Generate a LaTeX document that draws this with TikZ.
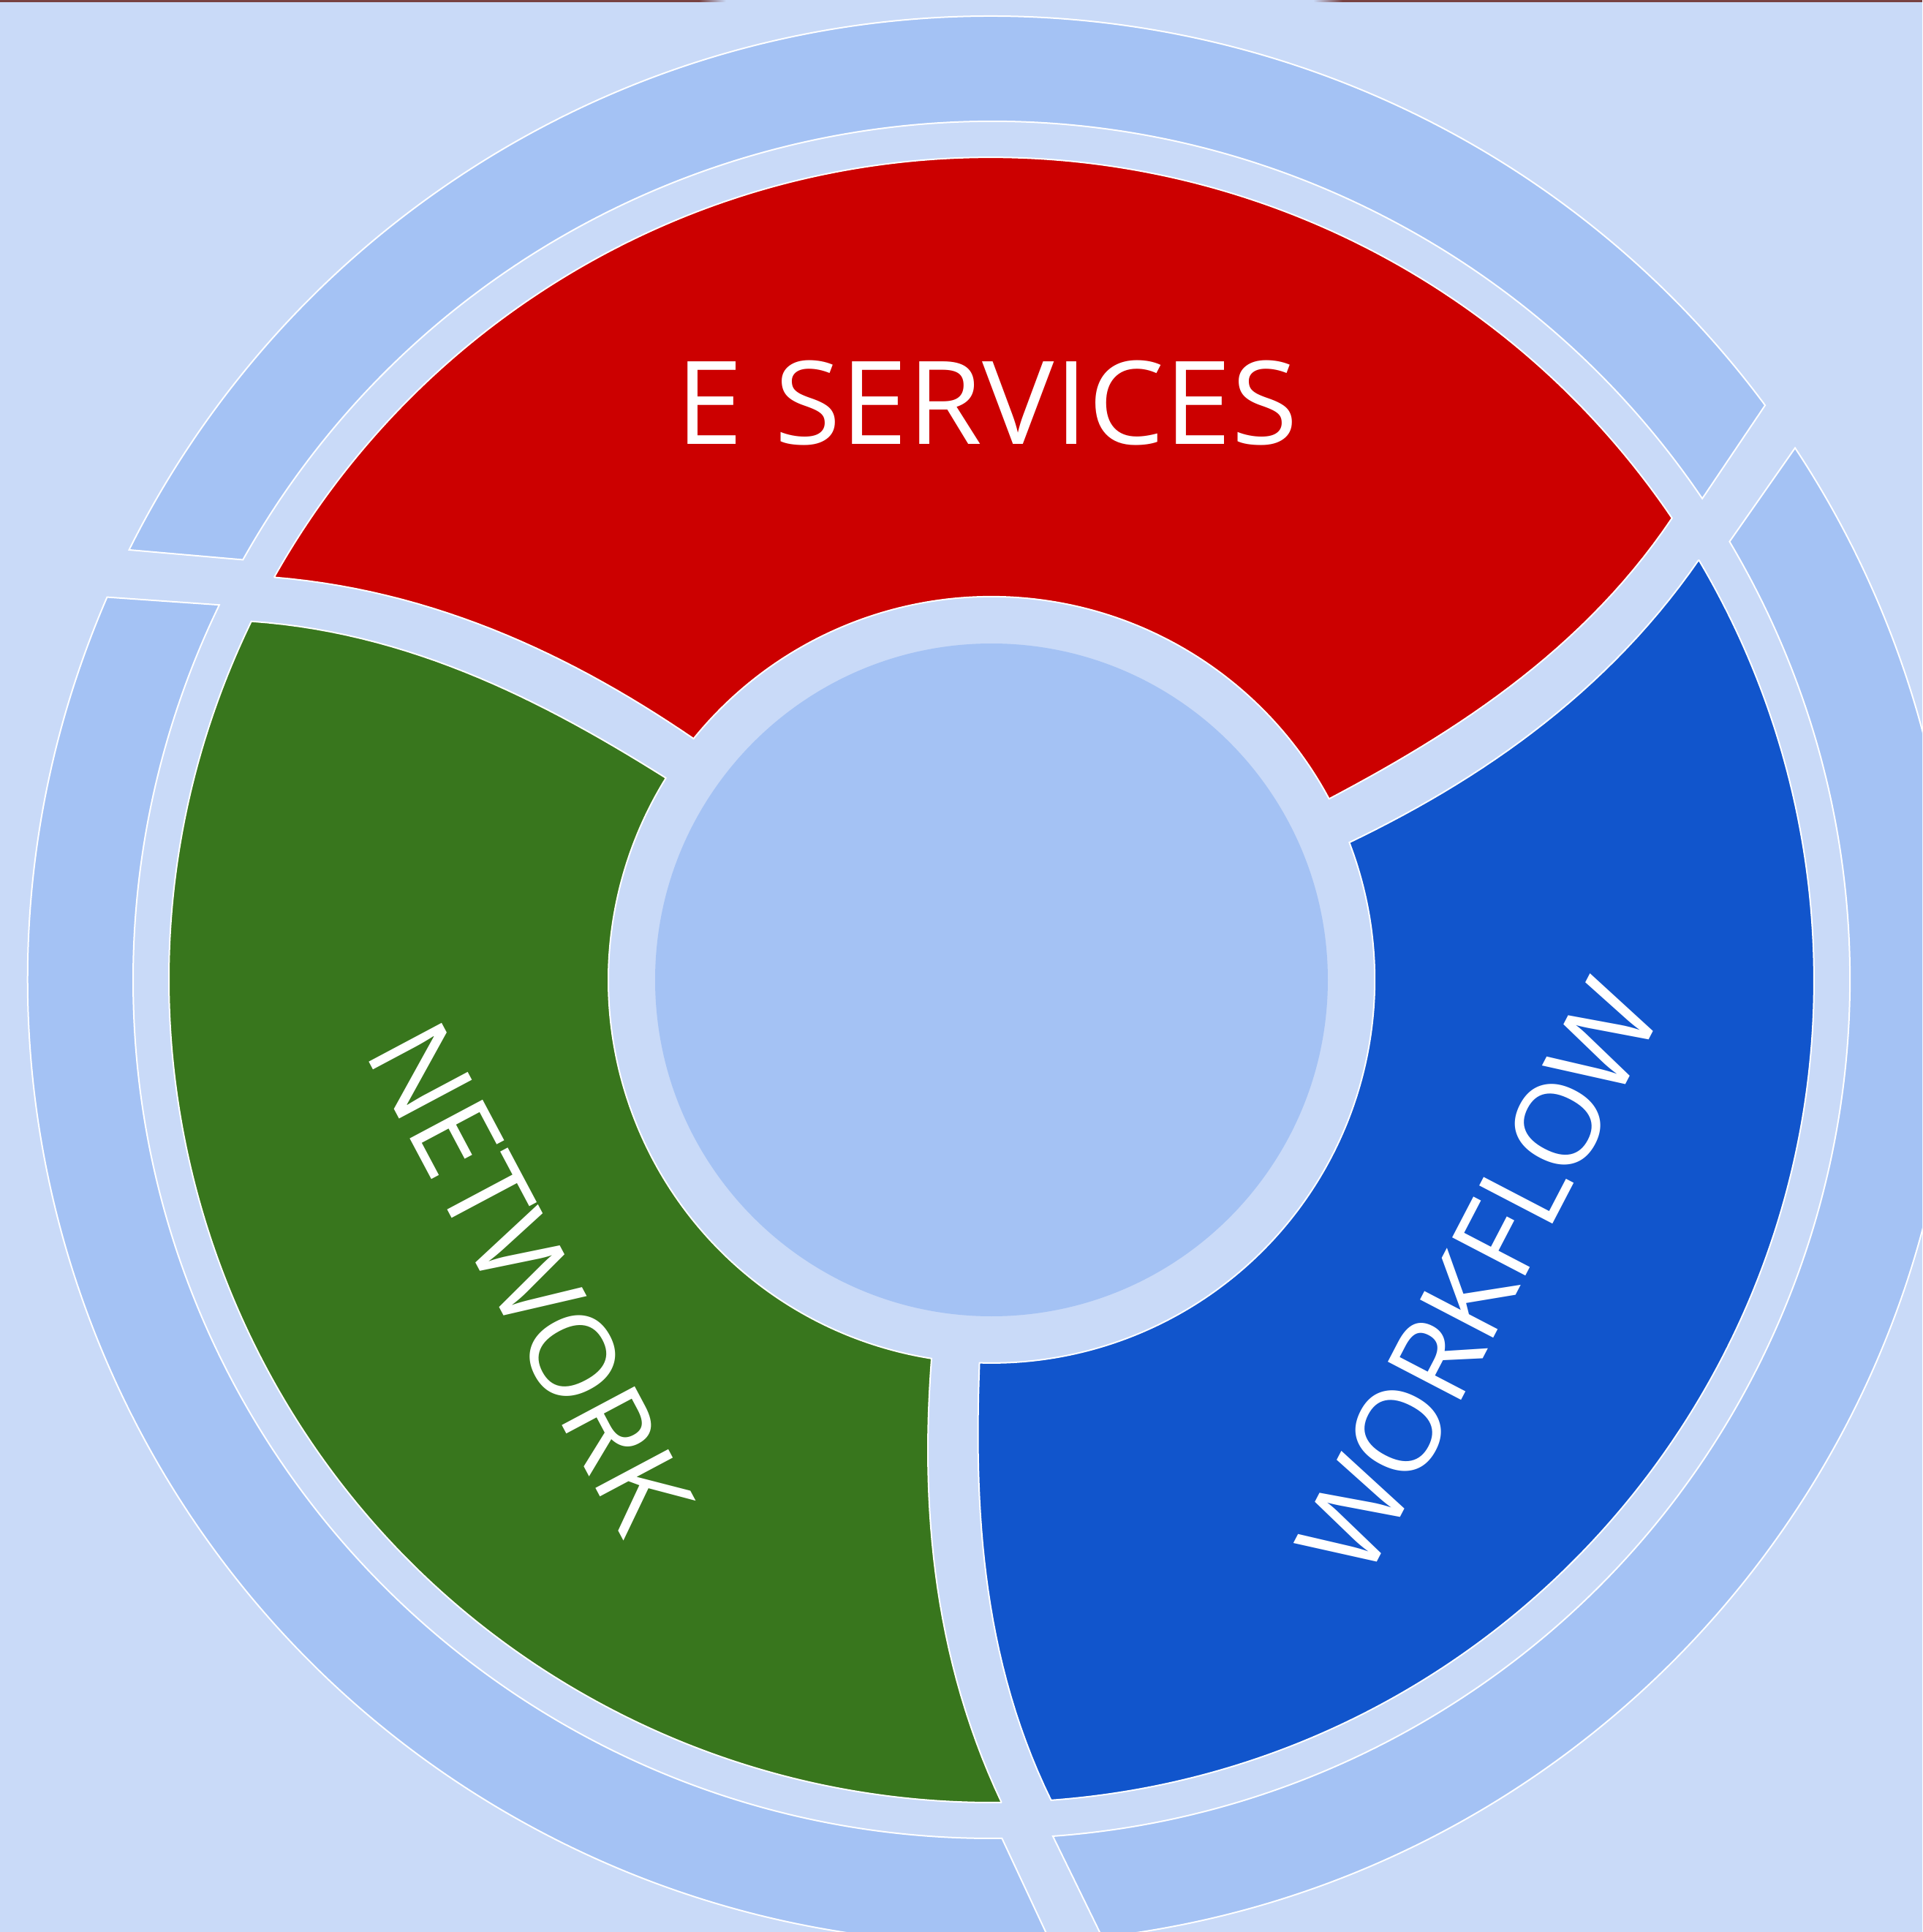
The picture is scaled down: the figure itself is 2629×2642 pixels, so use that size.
\documentclass[tikz,border=0pt]{standalone}
\usepackage{fontspec}
\newfontfamily\lblfont{Open Sans}
\definecolor{bgc}{HTML}{C9DAF8}
\definecolor{ringc}{HTML}{A4C2F4}
\definecolor{esc}{HTML}{CC0000}
\definecolor{wfc}{HTML}{1155CC}
\definecolor{nwc}{HTML}{38761D}
\definecolor{topc}{HTML}{784242}
\begin{document}
\begin{tikzpicture}[x=0.1mm, y=0.1mm,
  declare function={lo(\t)=141+5.35*\t+4.35*\t*\t; hi(\t)=148.2-0.42*\t+6.38*\t*\t; rr(\t)=524+601*\t;},
  piece/.style={draw=white, line width=0.2mm},
  lbl/.style={text=white, inner sep=0pt, font=\lblfont\fontsize{45pt}{54pt}\selectfont}]
\useasboundingbox (-1356,-1302) rectangle (1273,1340);
\fill[bgc] (-1356,-1302) rectangle (1273,1340);
\begin{scope}
\clip (-1356,-1302) rectangle (1273,1340);
% outer ring pieces
\path[piece, fill=ringc] (34.1:1174) -- (36.6:1318) arc[start angle=36.6, end angle=153.5, radius=1318] -- (150.7:1174) arc[start angle=150.7, end angle=34.1, radius=1174] -- cycle;
\path[piece, fill=ringc] (154.1:1174) -- (156.6:1318) arc[start angle=156.6, end angle=273.5, radius=1318] -- (270.7:1174) arc[start angle=270.7, end angle=154.1, radius=1174] -- cycle;
\path[piece, fill=ringc] (274.1:1174) -- (276.6:1318) arc[start angle=276.6, end angle=393.5, radius=1318] -- (390.7:1174) arc[start angle=390.7, end angle=274.1, radius=1174] -- cycle;
% coloured segments
\path[piece, fill=esc] plot[domain=0:1, samples=30, variable=\t] ({hi(\t)-120}:{rr(\t)})
  arc[start angle=34.16, end angle=150.7, radius=1125]
  -- plot[domain=1:0, samples=30, variable=\t] ({lo(\t)}:{rr(\t)})
  arc[start angle=141, end angle=28.2, radius=524] -- cycle;
\path[piece, fill=nwc] plot[domain=0:1, samples=30, variable=\t] ({hi(\t)}:{rr(\t)})
  arc[start angle=154.16, end angle=270.7, radius=1125]
  -- plot[domain=1:0, samples=30, variable=\t] ({lo(\t)+120}:{rr(\t)})
  arc[start angle=261, end angle=148.2, radius=524] -- cycle;
\path[piece, fill=wfc] plot[domain=0:1, samples=30, variable=\t] ({hi(\t)+120}:{rr(\t)})
  arc[start angle=274.16, end angle=390.7, radius=1125]
  -- plot[domain=1:0, samples=30, variable=\t] ({lo(\t)+240}:{rr(\t)})
  arc[start angle=381, end angle=268.2, radius=524] -- cycle;
\end{scope}
% hub
\node[circle, fill=ringc, inner sep=0pt, minimum size=92mm] (hub) at (0,0) {};
% labels
\node[lbl] (es) at (-6,788.7) {\addfontfeature{FakeStretch=1.045}E SERVICES};
\node[lbl, rotate=-62] (nw) at (-630.6,-406.5) {NETWORK};
\node[lbl, rotate=62.5] (wf) at (666,-407) {\addfontfeature{LetterSpace=-0.8}WORKFLOW};
% top border line
\fill[topc] (-1356,1340) rectangle (-400,1337.4);
\shade[left color=topc, right color=bgc] (-400,1340) rectangle (-363,1337.4);
\shade[left color=bgc, right color=topc] (440,1340) rectangle (480,1337.4);
\fill[topc] (480,1340) rectangle (1273,1337.4);
\end{tikzpicture}
\end{document}
